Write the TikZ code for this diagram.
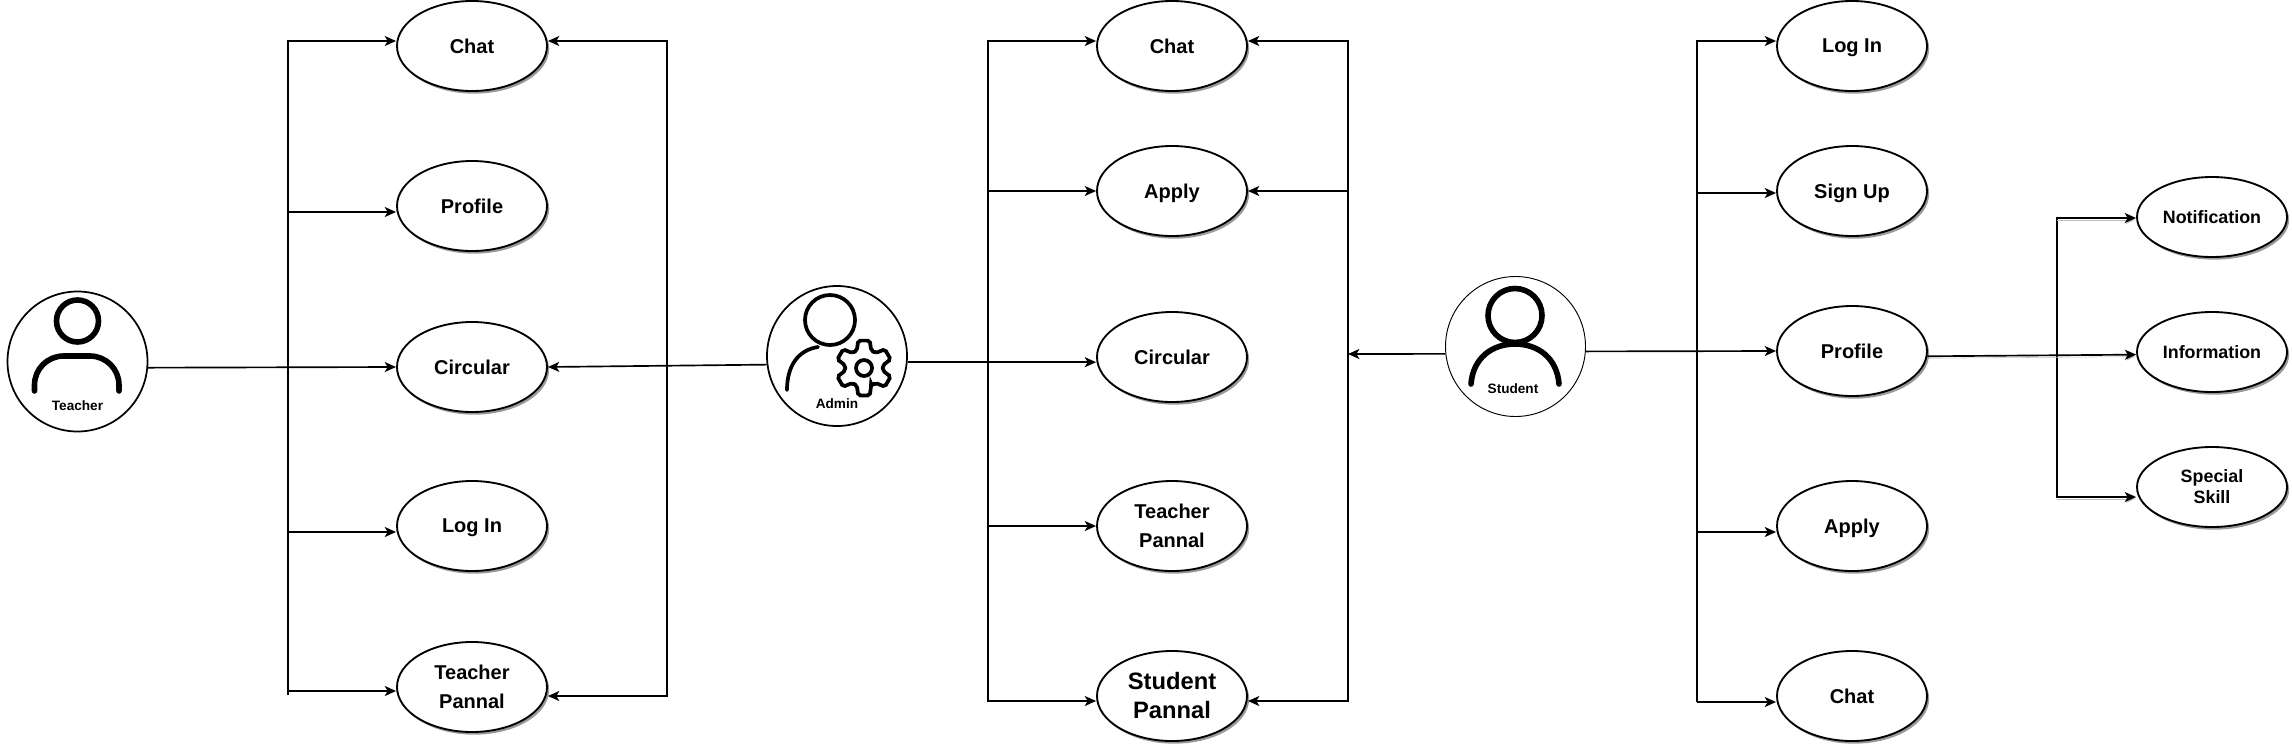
\documentclass[tikz,border=0pt]{standalone}
\usepackage{fontspec}
\setmainfont{Liberation Sans}
\usetikzlibrary{shapes.geometric,shadows,arrows.meta}

\begin{document}
\begin{tikzpicture}[x=0.75pt,y=-0.75pt]
\tikzset{usecase/.style=
            {ellipse,draw,line width=1.4pt,fill=white,inner sep=0pt,
             minimum width=112.5pt,minimum height=67.5pt,align=center,
             font=\fontsize{15}{21.75}\selectfont\bfseries,
             drop shadow={shadow xshift=1.6pt,shadow yshift=-2pt,fill=black!40,opacity=1}},
         flat/.style={text depth=0pt},
         big/.style={font=\fontsize{17.8}{21.75}\selectfont\bfseries},
         small/.style={minimum height=60pt,font=\fontsize{13.4}{15.75}\selectfont\bfseries},
         actor/.style={circle,draw,line width=1.3pt,inner sep=0pt,minimum size=105pt},
         actorlabel/.style={inner sep=0pt,font=\fontsize{10.2}{12}\selectfont\bfseries},
         icon/.style={line width=4.2pt,line cap=round},
         link/.style={line width=1.25pt,-{Stealth[length=8.5pt,width=7.5pt,inset=2.2pt]}},
         shaded link/.style={link,preaction={draw=black!25,transform canvas={yshift=-1.5pt}}},
         bus/.style={line width=1.25pt,line cap=rect}}
\useasboundingbox (0,0) rectangle (2292,747);

\node[usecase] (tchat) at (472,46) {Chat};
\node[usecase] (tprofile) at (472,206) {Profile};
\node[usecase] (tcircular) at (472,367) {Circular};
\node[usecase,flat] (tlogin) at (472,526) {Log In};
\node[usecase] (tpannal) at (472,687) {Teacher\\Pannal};

\node[usecase] (mchat) at (1172,46) {Chat};
\node[usecase,flat] (mapply) at (1172,191) {Apply};
\node[usecase] (mcircular) at (1172,357) {Circular};
\node[usecase] (mteacher) at (1172,526) {Teacher\\Pannal};
\node[usecase,big] (mstudent) at (1172,696) {Student\\Pannal};

\node[usecase,flat] (slogin) at (1852,46) {Log In};
\node[usecase,flat] (ssignup) at (1852,191) {Sign Up};
\node[usecase] (sprofile) at (1852,351) {Profile};
\node[usecase,flat] (sapply) at (1852,526) {Apply};
\node[usecase] (schat) at (1852,696) {Chat};

\node[usecase,small] (notification) at (2212,217) {Notification};
\node[usecase,small] (information) at (2212,352) {Information};
\node[usecase,small] (skill) at (2212,487) {Special\\Skill};

\node[actor] (teacher) at (77.5,361.5) {};
\node[actor] (admin) at (837,356) {};
\node[actor,line width=0.7pt] (student) at (1515.5,346.5) {};

\node[actorlabel] (teacherlabel) at (77.5,406) {Teacher};
\node[actorlabel] (adminlabel) at (837,404) {Admin};
\node[actorlabel] (studentlabel) at (1513,389) {Student};

\draw[icon] (77.5,321) ellipse (21 and 21);
\draw[icon] (34.5,391) -- (34.5,385) arc[start angle=180,end angle=270,radius=29]
    -- (90,356) arc[start angle=270,end angle=360,radius=29] -- (119,391);

\draw[icon,line width=2.8pt] (830,320) circle (25);
\draw[icon,line width=2.8pt] (787,390) .. controls (787,366) and (798,350) .. (818,347);
\begin{scope}[shift={(864,368)}]
\draw[line width=2.8pt,rounded corners=1.5pt,fill=white] (68:19)
    \foreach \a in {90,150,...,390} {-- (\a-12:28) -- (\a+12:28) -- (\a+22:19) -- (\a+38:19)} -- cycle;
\draw[line width=2.8pt] (0,0) circle (8);
\end{scope}

\draw[icon] (1515,315.5) circle (27);
\draw[icon] (1471,384) .. controls (1473,358) and (1492,344) .. (1515,344)
    .. controls (1538,344) and (1557,358) .. (1559,384);

\coordinate (tbusleft) at (288,41);
\coordinate (tbusleftend) at (288,694);
\coordinate (tbusright) at (667,41);
\coordinate (tbusrightend) at (667,696);
\coordinate (mbusleft) at (988,41);
\coordinate (mbusleftend) at (988,701);
\coordinate (mbusright) at (1348,41);
\coordinate (mbusrightend) at (1348,701);
\coordinate (mbusin) at (1348,354);
\coordinate (sbus) at (1697,41);
\coordinate (sbusend) at (1697,701);
\coordinate (pbus) at (2057,218);
\coordinate (pbusend) at (2057,497);

\draw[bus] (tbusleft) -- (tbusleftend);
\draw[bus] (tbusright) -- (tbusrightend);
\draw[bus] (mbusleft) -- (mbusleftend);
\draw[bus] (mbusright) -- (mbusrightend);
\draw[bus] (sbus) -- (sbusend);
\draw[bus] (pbus) -- (pbusend);

\foreach \name/\ypos in {tchat/41,tprofile/212,tlogin/532,tpannal/691}
    {\coordinate (a\name) at (288,\ypos);
     \draw[link] (a\name) -- (\name.west |- a\name);}
\foreach \name/\ypos in {tchat/41,tpannal/696}
    {\coordinate (b\name) at (667,\ypos);
     \draw[link] (b\name) -- (\name.east |- b\name);}
\foreach \name/\ypos in {mchat/41,mapply/191,mteacher/526,mstudent/701}
    {\coordinate (a\name) at (988,\ypos);
     \draw[link] (a\name) -- (\name.west |- a\name);}
\foreach \name/\ypos in {mchat/41,mapply/191,mstudent/701}
    {\coordinate (b\name) at (1348,\ypos);
     \draw[link] (b\name) -- (\name.east |- b\name);}
\foreach \name/\ypos in {slogin/41,ssignup/193,sapply/532,schat/702}
    {\coordinate (a\name) at (1697,\ypos);
     \draw[link] (a\name) -- (\name.west |- a\name);}
\foreach \name/\ypos in {notification/218,skill/497}
    {\coordinate (a\name) at (2057,\ypos);
     \draw[shaded link] (a\name) -- (\name.west |- a\name);}

\draw[link] (teacher.-5) -- (tcircular.west);
\draw[link] (admin.187) -- (tcircular.east);
\draw[link] (admin.-5) -- (mcircular.west |- admin.-5);
\draw[link] (student.186) -- (mbusin);
\draw[link] (student.-4) -- (sprofile.west);
\draw[shaded link] (sprofile.-4.5) -- (information.182);
\end{tikzpicture}
\end{document}
